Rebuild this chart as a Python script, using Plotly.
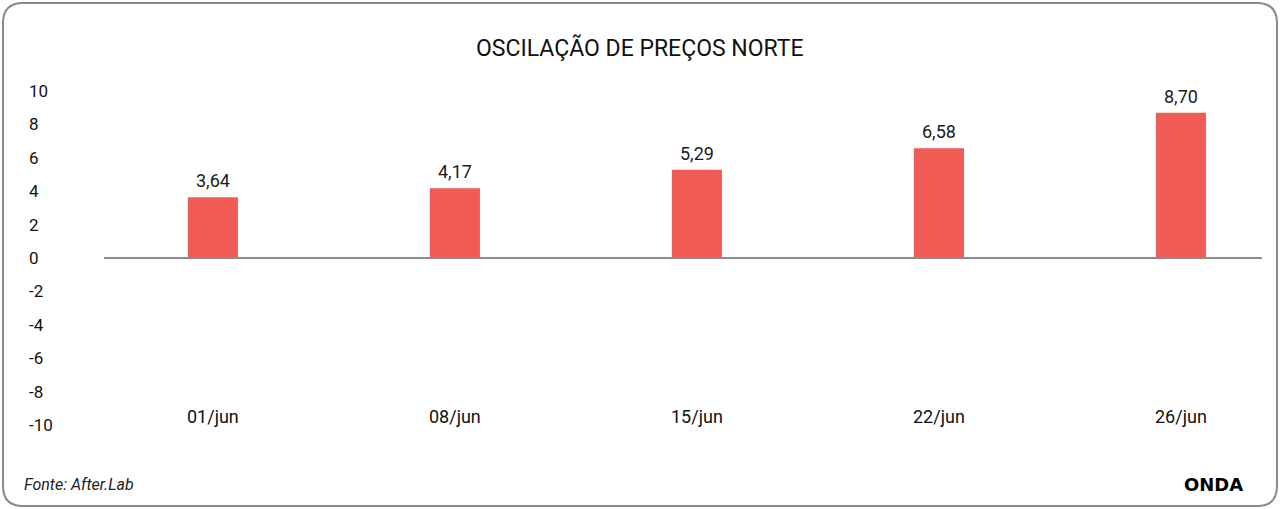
import plotly.graph_objects as go

categories = ["01/jun", "08/jun", "15/jun", "22/jun", "26/jun"]
values = [3.64, 4.17, 5.29, 6.58, 8.70]
y_ticks = [10, 8, 6, 4, 2, 0, -2, -4, -6, -8, -10]

FIG_W, FIG_H = 1280, 509
L, R, T, B = 28, 18, 81, 74
PW, PH = FIG_W - L - R, FIG_H - T - B

def px(xp):
    return (xp - L) / PW

def py(yp):
    return (FIG_H - B - yp) / PH

FONT = "Roboto"
BAR = "#F05B56"

xs = list(range(len(categories)))
fig = go.Figure()
fig.add_trace(go.Bar(x=xs, y=values, width=0.207, marker=dict(color=BAR, line=dict(width=0)),
                     hoverinfo="skip"))

for x, v in zip(xs, values):
    fig.add_annotation(x=x, y=v, text=f"{v:.2f}".replace(".", ","), showarrow=False,
                       yanchor="bottom", yshift=4, font=dict(family=FONT, size=18, color="#1a1a1a"))

# zero line
fig.add_shape(type="line", xref="paper", yref="y", x0=px(104), x1=px(1262), y0=0, y1=0,
              line=dict(color="#8c8c8c", width=2))

# rounded frame
x0, x1, y0, y1, r = 3, 1277, 3, 506, 20
path = (f"M {px(x0+r)},{py(y0)} L {px(x1-r)},{py(y0)} Q {px(x1)},{py(y0)} {px(x1)},{py(y0+r)} "
        f"L {px(x1)},{py(y1-r)} Q {px(x1)},{py(y1)} {px(x1-r)},{py(y1)} "
        f"L {px(x0+r)},{py(y1)} Q {px(x0)},{py(y1)} {px(x0)},{py(y1-r)} "
        f"L {px(x0)},{py(y0+r)} Q {px(x0)},{py(y0)} {px(x0+r)},{py(y0)} Z")
fig.add_shape(type="path", xref="paper", yref="paper", path=path,
              line=dict(color="#8a8a8a", width=2), layer="below")

fig.add_annotation(xref="paper", yref="paper", x=px(640), y=py(48), text="OSCILAÇÃO DE PREÇOS NORTE",
                   showarrow=False, xanchor="center", yanchor="middle",
                   font=dict(family=FONT, size=23, color="#111111"))
fig.add_annotation(xref="paper", yref="paper", x=px(22), y=py(484), text="<i>Fonte: After.Lab</i>",
                   showarrow=False, xanchor="left", yanchor="middle",
                   font=dict(family=FONT, size=16, color="#222222"))
fig.add_annotation(xref="paper", yref="paper", x=px(1245), y=py(484), text="<b>ONDA</b>",
                   showarrow=False, xanchor="right", yanchor="middle",
                   font=dict(family="DejaVu Sans", size=18, color="#000000"))

fig.update_layout(
    width=FIG_W, height=FIG_H,
    margin=dict(l=L, r=R, t=T, b=B),
    paper_bgcolor="white", plot_bgcolor="white",
    showlegend=False,
    font=dict(family=FONT, size=17, color="#111111"),
    xaxis=dict(range=[-0.764, 4.335], tickmode="array", tickvals=xs, ticktext=categories,
               anchor="free", position=py(404),
               showgrid=False, zeroline=False, showline=False, ticks="",
               tickfont=dict(family=FONT, size=18, color="#111111")),
    yaxis=dict(range=[-10.6, 10.6], tickmode="array", tickvals=y_ticks,
               ticktext=[str(t) for t in y_ticks],
               side="right", anchor="free", position=0, ticklabelstandoff=0,
               showgrid=False, zeroline=False, showline=False, ticks="",
               tickfont=dict(family=FONT, size=17, color="#111111")),
)

fig.write_html("out.html", config={"displayModeBar": False},
               post_script="document.body.style.margin='0';document.body.style.overflow='hidden';")
